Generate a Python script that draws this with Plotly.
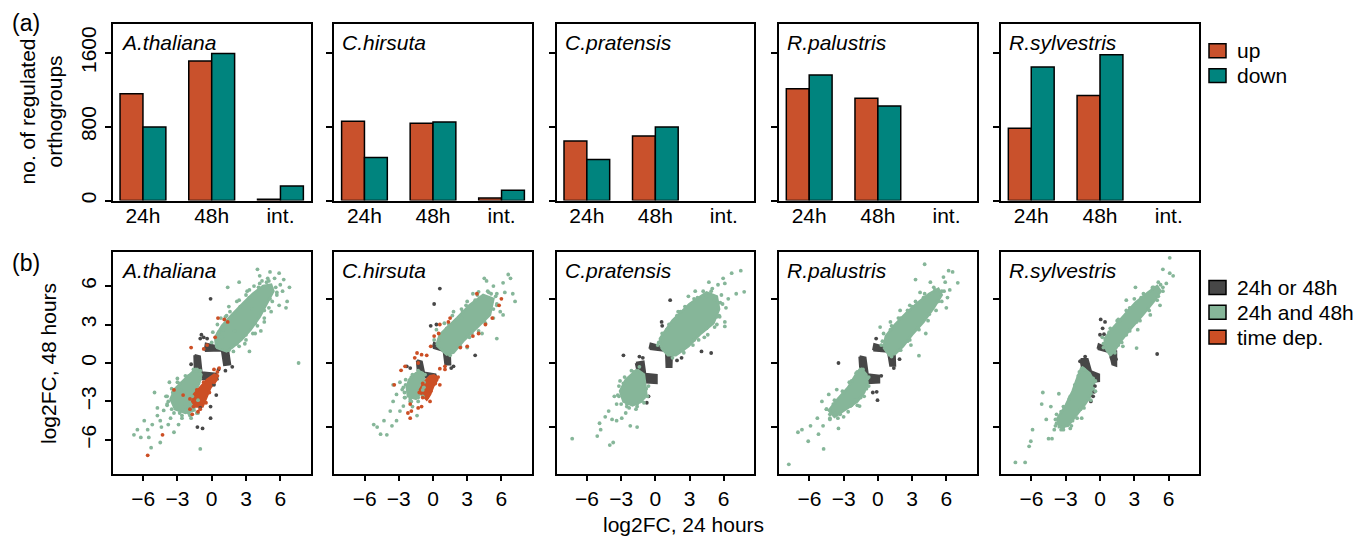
import plotly.graph_objects as go

W, H = 1367, 541
OFF = 8  # page body margin of the browser; figure coordinates are shifted by it

species = ["A.thaliana", "C.hirsuta", "C.pratensis", "R.palustris", "R.sylvestris"]
time_labels = ["24h", "48h", "int."]
up_counts = [[1156, 1512, 15], [858, 837, 29], [646, 700, 0], [1210, 1109, 0], [783, 1138, 0]]
down_counts = [[797, 1594, 158], [467, 851, 112], [446, 797, 0], [1361, 1023, 0], [1447, 1580, 0]]
bar_ticks = [0, 800, 1600]
fc_ticks = [-6, -3, 0, 3, 6]
fc_ticks_other = [-5, 0, 5]

# ---- scatter panels: dense cores (outlines) and individual points (log2FC 24h, log2FC 48h)
at_green_hi = [(0.4,1.2),(0.3,2.0),(0.9,2.9),(1.8,3.8),(2.8,4.7),(3.6,5.4),(4.5,6.0),(5.2,6.1),(5.4,5.6),(4.8,4.6),(4.2,3.6),(3.4,2.6),(2.6,1.8),(1.8,1.2),(1.3,0.9)]
at_green_lo = [(-1.3,-0.4),(-0.9,-0.9),(-1.1,-1.6),(-1.5,-2.3),(-1.6,-3.2),(-1.5,-3.7),(-2.3,-3.9),(-3.2,-3.6),(-3.6,-2.8),(-3.2,-2.0),(-2.4,-1.3),(-1.8,-0.8)]
at_grey_hi = [(-0.6,0.95),(-0.5,1.5),(0.9,1.2),(1.4,1.1),(1.6,-0.1),(1.1,-0.15),(0.9,1.0)]
at_grey_lo = [(-1.5,0.6),(-1.05,0.5),(-0.9,-0.75),(0.4,-0.85),(0.5,-1.25),(-0.9,-1.25),(-1.45,-0.9)]
at_orange_lo = [(0.3,-0.85),(0.44,-1.3),(-0.1,-1.9),(-0.5,-2.7),(-0.8,-3.4),(-1.4,-3.4),(-1.7,-3.0),(-1.55,-2.45),(-1.0,-1.9),(-0.4,-1.3)]
at_green_pts = [(4.0,7.3),(5.1,7.1),(5.9,7.0),(6.8,5.9),(6.6,4.8),(6.5,4.3),(2.4,6.3),(1.4,5.9),(3.3,0.9),(7.6,0.0),(0.8,3.5),(3.1,5.6),(2.2,4.8),(4.6,3.2),(4.3,2.5),(2.0,2.5),(5.7,5.3),(6.0,6.1),(5.5,6.6),(4.9,6.6),(3.7,6.0),(1.5,4.4),(5.9,4.5),(3.8,2.3),(2.9,1.5),(0.9,2.0),(1.3,3.7),(4.4,6.4),(6.2,5.6),(5.2,4.0),
                (1.0,2.6),(0.6,2.4),(2.5,4.4),(3.3,5.1),(4.1,5.9),(4.8,6.3),(5.6,5.9),(5.1,5.0),(4.6,4.1),(3.8,3.1),(3.0,2.2),(2.2,1.5),(1.5,1.0),(6.3,6.5),(4.2,6.8),(3.5,4.2),
                (0.0,1.6),(0.1,2.4),(0.5,3.0),(1.2,3.6),(1.6,4.0),(2.4,4.9),(3.0,5.3),(3.3,5.7),(4.2,6.2),(5.0,6.4),(5.7,5.5),(5.3,4.8),(5.0,4.3),(4.6,3.5),(4.0,2.9),(3.6,2.3),(3.0,1.8),(2.4,1.3),(1.9,0.9),
                (-5.0,-2.3),(-3.7,-1.5),(-2.7,-2.1),(-5.9,-4.5),(-5.2,-4.8),(-4.2,-3.7),(-4.75,-4.1),(-6.8,-5.6),(-6.2,-5.8),(-5.3,-6.6),(-4.5,-6.2),(-3.6,-4.3),(-3.3,-5.4),(-1.0,-6.7),(-2.1,-3.7),(-3.9,-3.2),(-4.75,-3.5),(-5.6,-5.2),(-2.3,-3.4),(-2.9,-4.8),(-4.0,-2.6),(-3.0,-1.2),(-1.8,-4.3),(-2.6,-4.3),(-4.4,-5.0),(-6.5,-5.2),(-3.8,-4.8),(-1.2,-3.9),
                (-1.0,-1.2),(-1.4,-0.6),(-2.0,-1.0),(-2.8,-1.6),(-3.4,-2.3),(-3.8,-3.0),(-3.5,-3.6),(-2.8,-3.9),(-2.0,-3.9),(-1.6,-3.5),(-1.7,-2.6),(-4.5,-4.5),(-5.5,-5.8),
                (-1.0,-0.6),(-1.6,-0.5),(-2.3,-1.0),(-3.0,-1.5),(-3.5,-2.0),(-3.9,-2.6),(-3.9,-3.3),(-3.3,-3.9),(-2.6,-4.1),(-1.9,-4.1),(-1.3,-3.9),(-1.2,-2.9)]
at_grey_pts = [(-0.1,5.0),(-1.0,1.9),(-0.9,2.2),(-0.4,1.9),(-1.8,-0.1),(0.6,-0.5),(0.2,-1.7),(0.4,-2.5),(-0.1,-3.4),(-1.0,-3.5),(-1.25,-5.0),(-0.8,-5.1),(-0.1,-4.3),(1.8,-0.3),(1.2,-0.6),(-0.7,2.0)]
at_orange_pts = [(-1.8,1.2),(-0.7,1.1),(-0.4,1.4),(0.3,2.0),(0.55,3.5),(1.1,3.4),(1.4,3.2),(-3.3,-2.1),(-2.5,-2.5),(-1.7,-4.0),(-4.3,-5.6),(-5.6,-7.2),(0.65,-0.4),(0.5,-0.7),(-1.9,-3.6),(-1.2,-3.8),(0.2,-0.5),
                 (0.5,-1.0),(0.2,-1.5),(-0.2,-2.3),(-0.5,-3.1),(-1.0,-3.6),(-1.6,-3.4),(-1.9,-2.8),(-1.3,-2.1),(-0.7,-1.5)]

ch_green_hi = [(0.3,1.4),(0.6,2.2),(2.1,3.5),(3.2,4.5),(4.4,5.3),(5.3,5.0),(5.0,3.75),(3.8,2.7),(2.65,1.7),(1.8,0.8),(1.2,0.65)]
ch_green_lo = [(-0.9,-0.7),(-0.8,-1.2),(-1.0,-1.8),(-1.1,-2.4),(-1.5,-2.8),(-2.2,-2.6),(-2.3,-1.9),(-2.1,-1.3),(-1.5,-0.8)]
ch_grey_hi = [(0.0,1.2),(0.1,1.55),(1.0,1.15),(1.45,1.1),(1.5,-0.1),(1.1,-0.1),(0.95,0.95)]
ch_grey_lo = [(-1.4,0.2),(-1.0,0.1),(-0.8,-0.75),(0.2,-0.9),(0.3,-1.2),(-0.8,-1.1),(-1.3,-0.8)]
ch_orange_lo = [(0.17,-0.96),(0.38,-1.3),(0.03,-1.8),(-0.26,-2.45),(-0.55,-2.85),(-1.0,-2.45),(-1.14,-2.07),(-0.7,-1.42),(-0.26,-1.03)]
ch_green_pts = [(4.5,6.6),(4.7,6.4),(6.15,6.25),(6.6,6.9),(6.8,6.6),(7.0,5.4),(7.2,4.8),(6.15,3.75),(5.6,1.9),(3.5,5.4),(2.9,4.5),(4.0,5.55),(5.1,5.4),(5.6,4.5),(2.5,3.5),(1.2,2.7),(5.9,4.0),(4.3,2.3),(3.0,1.2),(1.8,4.0),(6.3,5.5),(5.3,6.0),
                (0.5,1.8),(1.4,3.0),(2.6,4.0),(3.7,4.9),(4.9,5.5),(5.5,5.2),(5.3,4.2),(4.5,3.3),(3.4,2.3),(2.3,1.4),(1.6,0.9),
                (0.1,1.8),(0.3,2.6),(1.0,3.1),(1.7,3.7),(2.5,4.2),(3.0,4.8),(3.9,5.3),(4.8,5.6),(5.6,5.4),(5.6,4.6),(5.3,3.5),(4.6,3.1),(4.0,2.5),(3.2,2.0),(2.4,1.3),(1.5,0.6),
                (-5.2,-4.8),(-4.9,-5.0),(-4.3,-4.5),(-4.6,-5.55),(-4.05,-5.6),(-3.6,-4.9),(-3.2,-4.5),(-2.9,-3.75),(-3.5,-3.0),(-3.2,-2.45),(-2.7,-2.07),(-2.45,-2.7),(-1.4,-4.1),(-3.5,-1.7),(-2.6,-3.36),(-3.75,-3.75),(-2.0,-3.0),(-2.9,-1.5),(-1.8,-3.4),
                (-1.2,-0.7),(-1.9,-1.1),(-2.4,-1.7),(-2.5,-2.3),(-2.0,-2.8),(-1.3,-2.7),(-0.9,-2.1),(-0.8,-1.5),
                (-0.7,-0.9),(-1.3,-0.6),(-1.8,-0.9),(-2.4,-1.3),(-2.6,-1.9),(-2.5,-2.7),(-1.9,-3.0),(-1.3,-3.0),(-0.9,-2.6),(-0.8,-1.9)]
ch_grey_pts = [(0.6,5.8),(0.1,4.6),(3.7,0.6),(1.8,-0.26),(1.3,0.1),(0.3,3.0),(-2.3,-0.26),(-2.0,-0.4),(-0.2,2.9),(1.6,-0.4)]
ch_orange_pts = [(3.85,5.4),(5.8,4.5),(5.2,3.5),(4.6,3.0),(4.0,2.3),(3.5,2.1),(3.0,1.3),(2.4,1.2),(1.5,3.5),(1.35,3.2),(0.6,3.0),(0.5,2.3),(0.1,2.1),(-0.2,1.3),(1.05,-0.26),(0.6,-0.44),(-1.4,0.78),(-1.0,0.65),(-1.6,0.4),(-1.3,0.0),(-0.55,0.6),(-2.8,-0.57),(-2.45,-0.26),(-3.4,-1.7),(-2.0,-3.2),(-1.9,-3.75),(-1.3,-3.5),(-1.0,-3.4),(-2.0,-4.3),(-0.26,-3.0),(0.6,-1.7),(1.05,-0.5),(-2.2,-3.9),(6.0,5.0),
                 (0.45,-1.1),(0.2,-1.6),(-0.2,-2.2),(-0.5,-2.7),(-0.9,-2.7),(-1.2,-2.3),(-0.9,-1.6)]

cp_green_hi = [(0.5,1.2),(0.4,1.9),(1.5,3.3),(3.0,4.6),(4.5,5.5),(5.4,5.2),(5.6,4.2),(5.1,3.1),(4.0,2.3),(2.9,1.3),(1.8,0.6),(1.1,0.6)]
cp_green_lo = [(-1.6,-0.5),(-1.0,-0.9),(-0.9,-1.6),(-0.8,-2.4),(-1.2,-3.0),(-2.0,-3.3),(-2.8,-3.0),(-3.1,-2.2),(-2.6,-1.3),(-2.1,-0.9)]
cp_grey_hi = [(-0.5,1.1),(-0.4,1.5),(1.0,1.15),(1.45,1.1),(1.4,-0.3),(1.0,-0.3),(0.95,0.95)]
cp_grey_lo = [(-1.7,0.0),(-1.05,0.1),(-0.9,-0.85),(0.1,-0.95),(0.1,-1.55),(-0.8,-1.5),(-1.5,-0.85)]
cp_green_pts = [(4.7,6.3),(5.95,6.6),(6.7,7.0),(7.5,7.2),(6.1,6.2),(7.1,5.4),(7.8,5.55),(6.2,4.3),(6.1,3.2),(5.4,3.0),(4.5,5.2),(2.9,5.2),(5.2,4.9),(5.65,3.6),(6.1,2.85),(3.5,5.6),(6.4,5.0),(2.0,4.0),(3.8,1.8),(4.6,2.2),(5.5,6.1),(2.3,1.0),
                (0.3,1.6),(1.0,2.6),(2.2,4.0),(3.7,5.1),(4.9,5.6),(5.7,4.7),(5.4,3.6),(4.5,2.7),(3.4,1.8),(2.4,1.0),
                (0.2,1.4),(0.6,2.3),(1.2,3.0),(1.9,3.7),(2.6,4.4),(3.4,5.0),(4.2,5.6),(5.0,5.8),(5.8,5.3),(5.9,4.6),(5.6,3.7),(5.2,2.8),(4.3,2.0),(3.3,1.4),(2.5,0.8),(1.5,0.4),
                (-7.3,-5.9),(-5.1,-5.7),(-4.8,-5.2),(-4.1,-3.75),(-3.8,-4.4),(-3.4,-4.5),(-2.95,-4.3),(-2.2,-4.9),(-1.6,-5.0),(-4.0,-6.4),(-3.7,-6.2),(-3.1,-1.4),(-3.4,-3.2),(-2.5,-3.4),(-4.9,-4.7),(-3.6,-2.6),(-1.7,-3.6),(-2.6,-3.9),(-4.4,-4.2),
                (-1.9,-0.7),(-2.8,-1.6),(-3.2,-2.6),(-2.5,-3.2),(-1.6,-3.2),(-1.0,-2.7),(-0.8,-2.0),
                (-1.4,-0.3),(-2.1,-0.6),(-2.7,-1.1),(-3.2,-1.8),(-3.3,-2.5),(-3.0,-3.2),(-2.3,-3.5),(-1.6,-3.4),(-1.0,-3.1),(-0.7,-2.6),(-0.6,-1.8)]
cp_grey_pts = [(1.3,4.9),(0.55,3.2),(0.6,2.9),(-2.8,0.6),(-0.3,1.3),(4.05,0.9),(4.9,0.78),(-0.75,-3.1),(-0.6,-2.6),(1.9,0.2),(2.3,0.4),(-1.4,0.5),(-1.1,0.4)]

rp_green_hi = [(0.5,1.2),(0.7,2.1),(1.5,3.0),(2.5,3.9),(3.5,4.7),(4.5,5.4),(5.3,5.8),(5.6,5.3),(4.9,4.3),(4.0,3.2),(3.0,2.2),(2.2,1.3),(1.5,0.7),(1.0,0.6)]
rp_green_lo = [(-1.5,-0.4),(-1.0,-0.9),(-0.9,-1.6),(-1.2,-2.3),(-1.8,-3.0),(-2.8,-3.6),(-3.8,-4.2),(-4.3,-3.7),(-3.5,-2.8),(-2.6,-1.9),(-2.0,-1.0)]
rp_grey_hi = [(-0.4,1.0),(-0.3,1.45),(0.9,1.15),(1.45,1.0),(1.5,-0.2),(1.1,-0.2),(0.9,0.9)]
rp_grey_lo = [(-1.6,0.5),(-1.1,0.4),(-0.9,-0.9),(0.1,-1.0),(0.1,-1.5),(-0.9,-1.55),(-1.5,-0.8)]
rp_green_pts = [(4.1,7.7),(3.3,6.5),(4.6,6.3),(6.2,7.2),(6.55,7.1),(7.0,6.25),(5.75,6.7),(6.0,4.3),(3.6,0.57),(0.2,2.8),(1.1,3.2),(1.95,4.1),(2.8,4.5),(5.2,4.8),(6.3,5.7),(5.9,6.3),(4.2,2.3),(2.9,1.4),(3.7,5.5),(6.1,5.1),
                (0.4,1.7),(1.1,2.6),(2.0,3.5),(3.0,4.4),(4.0,5.1),(5.0,5.7),(5.6,5.6),(5.3,4.8),(4.5,3.8),(3.5,2.7),(2.6,1.7),(1.8,1.0),
                (0.3,1.4),(0.5,2.3),(1.2,2.9),(1.8,3.5),(2.6,4.1),(3.3,4.8),(4.1,5.4),(4.9,5.9),(5.8,5.6),(5.6,4.8),(5.1,4.1),(4.4,3.3),(3.6,2.6),(2.8,1.8),(2.0,1.0),(1.2,0.5),
                (-7.8,-7.9),(-7.0,-5.4),(-6.65,-5.2),(-6.1,-6.1),(-5.9,-4.9),(-5.2,-5.55),(-4.75,-6.7),(-4.8,-4.9),(-4.2,-4.3),(-3.45,-5.1),(-4.9,-3.0),(-4.3,-2.45),(-3.6,-2.07),(-2.4,-3.36),(-1.6,-3.36),(-3.9,-3.75),(-5.3,-4.3),(-4.5,-3.6),(-3.0,-4.2),(-2.0,-2.9),
                (-1.8,-0.7),(-2.3,-1.4),(-3.0,-2.3),(-3.9,-3.2),(-4.2,-4.0),(-3.3,-4.0),(-2.3,-3.3),(-1.5,-2.7),(-1.0,-2.0),(-0.9,-1.2),
                (-1.3,-0.5),(-1.9,-0.8),(-2.5,-1.5),(-3.1,-2.2),(-3.8,-2.9),(-4.5,-3.6),(-4.2,-4.4),(-3.5,-4.3),(-2.6,-3.8),(-1.8,-3.3),(-1.2,-2.6),(-0.8,-1.8),(-0.8,-1.1)]
rp_grey_pts = [(-0.15,1.9),(-3.45,0.0),(-0.1,-2.25),(-0.03,-2.9),(-0.44,-2.3),(0.3,-1.0),(1.4,-0.4),(1.9,0.3)]

rs_green_hi = [(0.5,1.1),(0.4,1.9),(1.2,2.8),(2.2,3.8),(3.1,4.7),(4.2,5.5),(5.0,6.0),(5.3,5.6),(4.7,4.8),(3.7,3.7),(2.7,2.7),(1.9,1.8),(1.3,1.0),(0.9,0.6)]
rs_green_lo = [(-1.6,-0.3),(-0.9,-0.8),(-0.5,-1.5),(-0.7,-2.4),(-1.3,-3.2),(-2.0,-4.0),(-2.8,-4.9),(-3.6,-5.0),(-3.7,-4.3),(-3.0,-3.3),(-2.4,-2.2),(-2.0,-1.2)]
rs_grey_hi = [(-0.2,1.1),(-0.1,1.45),(0.9,1.05),(1.4,0.9),(1.4,-0.2),(1.1,-0.1),(0.85,0.85)]
rs_grey_lo = [(-1.7,0.3),(-1.1,0.3),(-0.8,-0.65),(-0.1,-0.9),(-0.1,-1.4),(-0.7,-1.45),(-1.5,-0.6)]
rs_green_pts = [(6.1,8.2),(6.1,7.0),(6.4,6.8),(5.5,7.3),(5.1,6.3),(3.1,5.9),(2.3,4.9),(5.5,5.6),(5.25,4.5),(4.4,3.75),(3.2,1.16),(5.8,6.2),(4.6,5.9),(1.5,3.3),(3.3,2.6),(2.0,1.3),
                (0.3,1.5),(0.8,2.4),(1.7,3.3),(2.6,4.3),(3.6,5.1),(4.6,5.8),(5.3,6.1),(5.1,5.2),(4.2,4.2),(3.2,3.2),(2.3,2.2),(1.6,1.4),
                (0.3,1.2),(0.2,2.0),(0.9,2.7),(1.6,3.4),(2.3,4.1),(3.0,5.0),(3.8,5.4),(4.7,5.9),(5.5,5.9),(5.0,4.9),(4.3,4.1),(3.5,3.3),(2.6,2.5),(1.9,1.6),(1.3,0.8),
                (-7.4,-7.75),(-6.55,-7.75),(-6.2,-6.5),(-6.05,-6.1),(-5.9,-5.2),(-5.0,-2.3),(-5.1,-3.2),(-4.5,-5.9),(-4.2,-5.9),(-3.2,-5.2),(-2.5,-4.9),(-3.9,-4.4),(-4.7,-4.4),(-4.3,-3.4),(-3.6,-2.4),(-1.6,-4.3),(-4.0,-5.2),
                (-1.8,-0.7),(-2.2,-1.7),(-2.7,-2.8),(-3.4,-3.8),(-3.8,-4.7),(-3.2,-5.0),(-2.4,-4.5),(-1.7,-3.6),(-1.0,-2.8),(-0.6,-2.0),(-0.6,-1.2),
                (-1.4,-0.5),(-1.9,-1.0),(-2.2,-2.0),(-2.6,-2.6),(-3.2,-3.4),(-3.8,-4.0),(-3.9,-4.9),(-3.4,-5.2),(-2.6,-5.1),(-2.0,-4.3),(-1.4,-3.5),(-0.8,-2.9),(-0.4,-2.2),(-0.4,-1.4)]
rs_grey_pts = [(0.06,3.4),(0.44,3.2),(0.23,2.7),(0.35,2.25),(0.0,2.2),(5.0,0.7),(1.0,0.4),(1.4,0.3),(-0.44,-1.8),(-0.5,-2.25),(-0.8,-3.0),(-0.6,-2.6),(-1.75,0.13),(-1.3,0.5)]

# ---- styling
UP, DOWN = "#C9512C", "#00847E"
GREY, GREEN, ORANGE = "#474747", "#86B699", "#CC4F25"
FONT = "Liberation Sans, Arial, sans-serif"
FS = 21

panels = [
    dict(grey_polys=[at_grey_hi, at_grey_lo], green_polys=[at_green_hi, at_green_lo], orange_polys=[at_orange_lo],
         grey=at_grey_pts, green=at_green_pts, orange=at_orange_pts),
    dict(grey_polys=[ch_grey_hi, ch_grey_lo], green_polys=[ch_green_hi, ch_green_lo], orange_polys=[ch_orange_lo],
         grey=ch_grey_pts, green=ch_green_pts, orange=ch_orange_pts),
    dict(grey_polys=[cp_grey_hi, cp_grey_lo], green_polys=[cp_green_hi, cp_green_lo], orange_polys=[],
         grey=cp_grey_pts, green=cp_green_pts, orange=[]),
    dict(grey_polys=[rp_grey_hi, rp_grey_lo], green_polys=[rp_green_hi, rp_green_lo], orange_polys=[],
         grey=rp_grey_pts, green=rp_green_pts, orange=[]),
    dict(grey_polys=[rs_grey_hi, rs_grey_lo], green_polys=[rs_green_hi, rs_green_lo], orange_polys=[],
         grey=rs_grey_pts, green=rs_green_pts, orange=[]),
]

# panel boxes in page pixels
px_cols = [(112.7, 310.7), (334.3, 531.7), (556.7, 754.0), (779.0, 976.7), (1001.0, 1199.0)]
top_rows = (24.0, 201.7)
bot_rows = (253.3, 476.7)

FW, FH = W - OFF, H - OFF


def fx(px):
    return (px - OFF) / FW


def fy(py):
    return 1 - (py - OFF) / FH


def xdom(a, b):
    return [fx(a), fx(b)]


def ydom(t, b):
    return [fy(b), fy(t)]


def ref(prefix, n):
    return prefix if n == 1 else f"{prefix}{n}"


def axkey(prefix, n):
    return f"{prefix}axis" if n == 1 else f"{prefix}axis{n}"


fig = go.Figure()
layout = {}
annotations = []
shapes = []

box_style = dict(showline=True, mirror=True, linecolor="black", linewidth=2, showgrid=False, zeroline=False,
                 tickfont=dict(family=FONT, size=FS, color="black"), tickcolor="black", tickwidth=1.5)

# ---------- (a) bar panels
for i, sp in enumerate(species):
    n = i + 1
    xr, yr = ref("x", n), ref("y", n)
    centers = [2 + 3 * g for g in range(len(time_labels))]
    for vals, shift, col in ((up_counts[i], -0.5, UP), (down_counts[i], 0.5, DOWN)):
        xs = [c + shift for c, v in zip(centers, vals) if v > 0]
        ys = [v for v in vals if v > 0]
        fig.add_trace(go.Bar(x=xs, y=ys, width=1.0, marker=dict(color=col, line=dict(color="black", width=1.5)),
                             xaxis=xr, yaxis=yr, showlegend=False))
    layout[axkey("x", n)] = dict(domain=xdom(*px_cols[i]), range=[0.68, 9.32], tickvals=centers, ticktext=time_labels,
                                 ticks="", ticklabelstandoff=-5, anchor=yr, **box_style)
    layout[axkey("y", n)] = dict(domain=ydom(*top_rows), range=[0, 1913], tickvals=bar_ticks, ticks="outside", ticklen=6,
                                 showticklabels=(i == 0), tickangle=-90, anchor=xr, **box_style)
    annotations.append(dict(text=f"<i>{sp}</i>", x=fx(px_cols[i][0] + 6), y=fy(43), xref="paper", yref="paper",
                            xanchor="left", yanchor="middle", showarrow=False, font=dict(family=FONT, size=FS, color="black")))

# ---------- (b) scatter panels
for i, sp in enumerate(species):
    n = i + 6
    xr, yr = ref("x", n), ref("y", n)
    p = panels[i]
    for polys, col in ((p["grey_polys"], GREY), (p["green_polys"], GREEN), (p["orange_polys"], ORANGE)):
        for poly in polys:
            xs = [q[0] for q in poly] + [poly[0][0]]
            ys = [q[1] for q in poly] + [poly[0][1]]
            fig.add_trace(go.Scatter(x=xs, y=ys, mode="lines", fill="toself", fillcolor=col,
                                     line=dict(color=col, width=2.5), xaxis=xr, yaxis=yr, showlegend=False, hoverinfo="skip"))
    for pts, col in ((p["grey"], GREY), (p["green"], GREEN), (p["orange"], ORANGE)):
        if pts:
            fig.add_trace(go.Scatter(x=[q[0] for q in pts], y=[q[1] for q in pts], mode="markers",
                                     marker=dict(color=col, size=3.8, line=dict(width=0)),
                                     xaxis=xr, yaxis=yr, showlegend=False))
    layout[axkey("x", n)] = dict(domain=xdom(*px_cols[i]), range=[-8.66, 8.66], tickvals=fc_ticks, ticks="outside", ticklen=5,
                                 anchor=yr, **box_style)
    layout[axkey("y", n)] = dict(domain=ydom(*bot_rows), range=[-8.66, 8.66],
                                 tickvals=fc_ticks if i == 0 else fc_ticks_other, ticks="outside", ticklen=6,
                                 showticklabels=(i == 0), tickangle=-90, anchor=xr, **box_style)
    annotations.append(dict(text=f"<i>{sp}</i>", x=fx(px_cols[i][0] + 6), y=fy(272), xref="paper", yref="paper",
                            xanchor="left", yanchor="middle", showarrow=False, font=dict(family=FONT, size=FS, color="black")))


# ---------- labels
def add_text(text, x, y, size=FS, angle=0, xanchor="center"):
    annotations.append(dict(text=text, x=fx(x), y=fy(y), xref="paper", yref="paper", xanchor=xanchor, yanchor="middle",
                            showarrow=False, textangle=angle, font=dict(family=FONT, size=size, color="black")))


add_text("(a)", 26, 23, size=23)
add_text("(b)", 26, 264, size=23)
add_text("no. of regulated<br>orthogroups", 41, 112, size=FS, angle=-90)
add_text("log2FC, 48 hours", 49, 366, size=FS, angle=-90)
add_text("log2FC, 24 hours", 683, 527, size=FS)

# legends
legend_top = [("up", UP, 51), ("down", DOWN, 76)]
legend_bot = [("24h or 48h", GREY, 289), ("24h and 48h", GREEN, 314), ("time dep.", ORANGE, 339)]
for label, col, yc in legend_top + legend_bot:
    shapes.append(dict(type="rect", xref="paper", yref="paper", x0=fx(1209), x1=fx(1226), y0=fy(yc + 7), y1=fy(yc - 7),
                       fillcolor=col, line=dict(color="black", width=1.5)))
    add_text(label, 1235, yc, size=FS, xanchor="left")

fig.update_layout(width=FW, height=FH, margin=dict(l=0, r=0, t=0, b=0), plot_bgcolor="white", paper_bgcolor="white",
                  barmode="overlay", showlegend=False, annotations=annotations, shapes=shapes, **layout)

fig.write_html("out.html")
